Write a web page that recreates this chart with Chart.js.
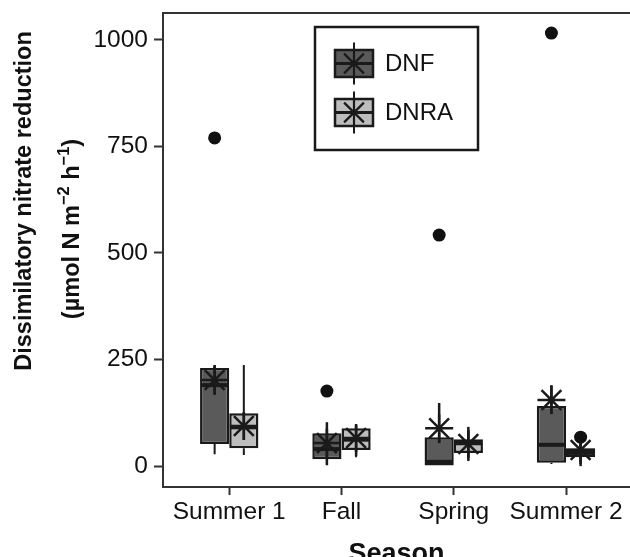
<!DOCTYPE html>
<html>
<head>
<meta charset="utf-8">
<script src="https://cdn.jsdelivr.net/npm/chart.js@4.4.1/dist/chart.umd.min.js"></script>
<style>
  html, body { margin: 0; padding: 0; background: #fff; }
  #wrap { width: 630px; height: 557px; }
</style>
</head>
<body>
<div id="wrap"><canvas id="chart" width="630" height="557"></canvas></div>
<script>
// Categories and y ticks
const seasons = ['Summer 1', 'Fall', 'Spring', 'Summer 2'];
const yTicks  = [0, 250, 500, 750, 1000];

// DNF (µmol N m-2 h-1)
const dnfLow      = [28, 5, 0, 5];
const dnfQ1       = [52, 16, 0, 8];
const dnfMedian   = [190, 40, 10, 50];
const dnfQ3       = [230, 77, 68, 141];
const dnfHigh     = [237, 90, 68, 141];
const dnfMean     = [202, 54, 89, 155];
const dnfErrLo    = [167, 2, 54, 122];
const dnfErrHi    = [237, 103, 148, 190];
const dnfOutliers = [770, 176, 542, 1016];

// DNRA
const dnraLow      = [26, 21, 20, 12];
const dnraQ1       = [42, 38, 31, 21];
const dnraMedian   = [91, 62, 55, 31];
const dnraQ3       = [124, 89, 63, 42];
const dnraHigh     = [237, 96, 80, 55];
const dnraMean     = [94, 66, 52, 38];
const dnraErrLo    = [62, 24, 12, 0];
const dnraErrHi    = [125, 96, 92, 68];
const dnraOutliers = [null, null, null, 68];

const CAT_PCT = 0.52;          // share of a category taken by the two boxes
const dodge   = CAT_PCT / 4;   // centre offset of each box, in category units
const ink     = '#1a1a1a';
const axisCol = '#333333';
const dnfFill  = '#5a5a5a';
const dnraFill = '#bdbdbd';
const FONT = '"Liberation Sans", Arial, sans-serif';

function boxData(q1, q3) {
  return seasons.map((s, i) => ({ x: i, y: [q1[i], q3[i]] }));
}
function pointData(vals, off) {
  return vals.map((v, i) => v == null ? null : { x: i + off, y: v }).filter(Boolean);
}

// star (+ and x) like ggplot shape 8
function drawStar(ctx, x, y, r) {
  const d = r * Math.SQRT1_2;
  ctx.beginPath();
  ctx.moveTo(x - r, y); ctx.lineTo(x + r, y);
  ctx.moveTo(x, y - r); ctx.lineTo(x, y + r);
  ctx.moveTo(x - d, y - d); ctx.lineTo(x + d, y + d);
  ctx.moveTo(x - d, y + d); ctx.lineTo(x + d, y - d);
  ctx.stroke();
}

// text rotated -90deg, parts may be superscripts
function drawRotated(ctx, parts, baseX, centerY, size) {
  ctx.save();
  ctx.translate(baseX, centerY);
  ctx.rotate(-Math.PI / 2);
  ctx.textBaseline = 'alphabetic';
  ctx.textAlign = 'left';
  let total = 0;
  parts.forEach(p => {
    ctx.font = 'bold ' + (p.sup ? size * 0.7 : size) + 'px ' + FONT;
    p.w = ctx.measureText(p.t).width;
    total += p.w;
  });
  let x = -total / 2;
  parts.forEach(p => {
    ctx.font = 'bold ' + (p.sup ? size * 0.7 : size) + 'px ' + FONT;
    ctx.fillText(p.t, x, p.sup ? -size * 0.42 : 0);
    x += p.w;
  });
  ctx.restore();
}

function drawLegendKey(ctx, x, y, w, h, fill) {
  const cx = x + w / 2, cy = y + h / 2;
  ctx.strokeStyle = ink;
  ctx.fillStyle = fill;
  ctx.fillRect(x, y, w, h);
  ctx.lineWidth = 2.5;
  ctx.strokeRect(x, y, w, h);
  ctx.lineWidth = 3;
  ctx.beginPath(); ctx.moveTo(x, cy); ctx.lineTo(x + w, cy); ctx.stroke();
  ctx.lineWidth = 2;
  ctx.beginPath(); ctx.moveTo(cx, cy - 21); ctx.lineTo(cx, cy + 21); ctx.stroke();
  ctx.lineWidth = 2.2;
  drawStar(ctx, cx, cy, 14);
}

const boxParts = {
  id: 'boxParts',
  beforeDatasetDraw(chart, args) {
    const ds = chart.data.datasets[args.index];
    const y = chart.scales.y;
    const ctx = chart.ctx;
    ctx.save();
    ctx.strokeStyle = ink;
    if (ds.box) {
      ctx.lineWidth = 2;
      args.meta.data.forEach((el, i) => {
        ctx.beginPath();
        ctx.moveTo(el.x, y.getPixelForValue(ds.box.q3[i]));
        ctx.lineTo(el.x, y.getPixelForValue(ds.box.high[i]));
        ctx.moveTo(el.x, y.getPixelForValue(ds.box.q1[i]));
        ctx.lineTo(el.x, y.getPixelForValue(ds.box.low[i]));
        ctx.stroke();
      });
    }
    if (ds.err) {
      ctx.lineWidth = 2.5;
      args.meta.data.forEach((el, i) => {
        ctx.beginPath();
        ctx.moveTo(el.x, y.getPixelForValue(ds.err.lo[i]));
        ctx.lineTo(el.x, y.getPixelForValue(ds.err.hi[i]));
        ctx.stroke();
      });
    }
    ctx.restore();
  },
  afterDatasetDraw(chart, args) {
    const ds = chart.data.datasets[args.index];
    if (!ds.box) return;
    const y = chart.scales.y;
    const ctx = chart.ctx;
    ctx.save();
    ctx.strokeStyle = ink;
    ctx.lineWidth = 4;
    args.meta.data.forEach((el, i) => {
      const py = y.getPixelForValue(ds.box.med[i]);
      ctx.beginPath();
      ctx.moveTo(el.x - el.width / 2 + 1, py);
      ctx.lineTo(el.x + el.width / 2 - 1, py);
      ctx.stroke();
    });
    ctx.restore();
  },
  afterDraw(chart) {
    const ctx = chart.ctx;
    const a = chart.chartArea;
    ctx.save();
    // top of panel frame
    ctx.strokeStyle = axisCol;
    ctx.lineWidth = 2;
    ctx.beginPath(); ctx.moveTo(a.left - 1, a.top); ctx.lineTo(a.right, a.top); ctx.stroke();

    // legend
    ctx.strokeStyle = ink;
    ctx.lineWidth = 2.5;
    ctx.fillStyle = '#fff';
    ctx.fillRect(315, 27, 163, 123);
    ctx.strokeRect(315, 27, 163, 123);
    drawLegendKey(ctx, 335, 50, 38, 27, dnfFill);
    drawLegendKey(ctx, 335, 99, 38, 27, dnraFill);
    ctx.fillStyle = '#111';
    ctx.font = '24px ' + FONT;
    ctx.textBaseline = 'middle';
    ctx.textAlign = 'left';
    ctx.fillText('DNF', 385, 64);
    ctx.fillText('DNRA', 385, 113);

    // axis titles
    ctx.font = 'bold 27px ' + FONT;
    ctx.textAlign = 'center';
    ctx.textBaseline = 'alphabetic';
    ctx.fillText('Season', (a.left + a.right) / 2, 562);
    drawRotated(ctx, [{ t: 'Dissimilatory nitrate reduction' }], 31, 201, 23.5);
    drawRotated(ctx, [
      { t: '(µmol N m' }, { t: '−2', sup: true },
      { t: ' h' }, { t: '−1', sup: true }, { t: ')' }
    ], 79, 229, 23.5);
    ctx.restore();
  }
};

new Chart(document.getElementById('chart'), {
  type: 'bar',
  data: {
    datasets: [
      {
        label: 'DNF', data: boxData(dnfQ1, dnfQ3),
        box: { low: dnfLow, q1: dnfQ1, med: dnfMedian, q3: dnfQ3, high: dnfHigh },
        backgroundColor: dnfFill, borderColor: ink, borderWidth: 2.5, borderSkipped: false,
        categoryPercentage: CAT_PCT, barPercentage: 1, order: 3
      },
      {
        label: 'DNRA', data: boxData(dnraQ1, dnraQ3),
        box: { low: dnraLow, q1: dnraQ1, med: dnraMedian, q3: dnraQ3, high: dnraHigh },
        backgroundColor: dnraFill, borderColor: ink, borderWidth: 2.5, borderSkipped: false,
        categoryPercentage: CAT_PCT, barPercentage: 1, order: 3
      },
      {
        type: 'scatter', label: 'DNF mean', data: pointData(dnfMean, -dodge),
        err: { lo: dnfErrLo, hi: dnfErrHi },
        pointStyle: 'star', pointRadius: 14, borderColor: ink, borderWidth: 2.5, order: 2
      },
      {
        type: 'scatter', label: 'DNRA mean', data: pointData(dnraMean, dodge),
        err: { lo: dnraErrLo, hi: dnraErrHi },
        pointStyle: 'star', pointRadius: 14, borderColor: ink, borderWidth: 2.5, order: 2
      },
      {
        type: 'scatter', label: 'DNF outliers', data: pointData(dnfOutliers, -dodge),
        pointStyle: 'circle', pointRadius: 6.5, backgroundColor: '#111', borderWidth: 0, order: 1
      },
      {
        type: 'scatter', label: 'DNRA outliers', data: pointData(dnraOutliers, dodge),
        pointStyle: 'circle', pointRadius: 6.5, backgroundColor: '#111', borderWidth: 0, order: 1
      }
    ]
  },
  options: {
    responsive: false,
    animation: false,
    devicePixelRatio: 1,
    layout: { autoPadding: false, padding: { top: 13, right: 0, bottom: 0, left: 0 } },
    plugins: { legend: { display: false }, tooltip: { enabled: false } },
    scales: {
      x: {
        type: 'linear', min: -0.59, max: 3.57, offset: false,
        afterBuildTicks: s => { s.ticks = seasons.map((_, i) => ({ value: i })); },
        afterFit: s => { s.height = 70; s.paddingLeft = 0; s.paddingRight = 0; },
        grid: { display: true, offset: false, drawOnChartArea: false, drawTicks: true, tickLength: 8, tickWidth: 2, tickColor: axisCol },
        border: { display: true, color: axisCol, width: 2 },
        ticks: {
          autoSkip: false, maxRotation: 0, padding: 3, color: '#111',
          font: { family: FONT, size: 24.5 },
          callback: v => seasons[v] ?? ''
        }
      },
      y: {
        min: -49, max: 1063,
        afterBuildTicks: s => { s.ticks = yTicks.map(v => ({ value: v })); },
        afterFit: s => { s.width = 163; s.paddingTop = 0; s.paddingBottom = 0; },
        grid: { display: true, drawOnChartArea: false, drawTicks: true, tickLength: 9, tickWidth: 2, tickColor: axisCol },
        border: { display: true, color: axisCol, width: 2 },
        ticks: {
          padding: 6, color: '#111',
          font: { family: FONT, size: 24.5 },
          callback: v => String(v)
        }
      }
    }
  },
  plugins: [boxParts]
});
</script>
</body>
</html>
